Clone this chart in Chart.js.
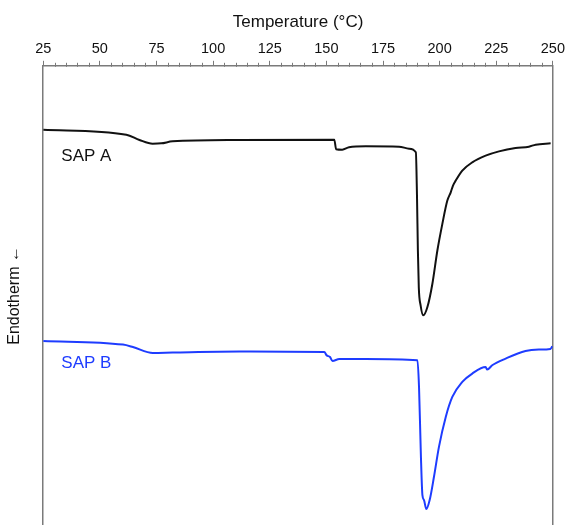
<!DOCTYPE html>
<html>
<head>
<meta charset="utf-8">
<script src="https://cdn.jsdelivr.net/npm/chart.js@4.4.0/dist/chart.umd.min.js"></script>
<style>
  html, body { margin: 0; padding: 0; background: #fff; }
  #wrap { width: 568px; height: 525px; }
</style>
</head>
<body>
<div id="wrap"><canvas id="dsc"></canvas></div>
<script>
// DSC traces (temperature in °C, heat flow in arbitrary units)
const tempA = [25, 61.7, 67.5, 73.3, 77.1, 82.1, 111.6, 153.5, 154.3, 157, 160, 167.4, 182.1, 186.5, 189.5,
  190.0, 190.4, 190.8, 191.6, 192.8, 194.6, 196.8, 199, 201.2, 203.4, 204.9, 205.9, 207.1, 210, 214.4,
  220.3, 226.2, 233.5, 239.4, 242.4, 249];
const heatA = [39.6, 39.1, 38.57, 38.2, 38.23, 38.43, 38.57, 38.6, 37.65, 37.6, 37.83, 37.93, 37.9, 37.7, 37.33,
  33.0, 27.5, 23.8, 22.0, 21.0, 21.83, 24.17, 27.5, 30.17, 32.5, 33.33, 34.0, 34.5, 35.5, 36.33,
  37.0, 37.43, 37.77, 37.9, 38.1, 38.23];

const tempB = [25, 60.2, 64.6, 73.4, 82.2, 111.6, 149.1, 150.1, 151.6, 152.7, 155.7, 167.4, 190.2,
  190.9, 191.7, 192.4, 193.1, 194.1, 195.6, 197.5, 199.7, 202.7, 205.6, 210, 214.4, 220.3, 221,
  223.2, 229.1, 237.9, 243.8, 248.9, 249.7];
const heatB = [18.43, 18.07, 17.83, 17.23, 17.27, 17.37, 17.33, 17.0, 16.83, 16.43, 16.63, 16.63, 16.5,
  13.83, 7.17, 3.0, 2.5, 1.6, 2.5, 4.83, 7.83, 10.83, 12.83, 14.33, 15.17, 15.83, 15.57,
  16.0, 16.67, 17.43, 17.57, 17.63, 17.9];

const seriesNames = ['SAP A', 'SAP B'];
const labelAt = [[33, 36.95], [33, 16.2]];
const tickStep = 25;
const minorStep = 5;

const FONT = '"Liberation Sans", Arial, sans-serif';
const AXIS = '#7a7a7a';
const colors = ['#111111', '#1e3cff'];

function toPoints(xs, ys) {
  return xs.map((x, i) => ({ x: x, y: ys[i] }));
}

// minor ticks along the top axis + curve labels
const extras = {
  id: 'extras',
  afterDraw(chart) {
    const ctx = chart.ctx;
    const xs = chart.scales.x, ys = chart.scales.y;
    const top = chart.chartArea.top;
    ctx.save();
    ctx.strokeStyle = AXIS;
    ctx.lineWidth = 1;
    for (let v = xs.min; v <= xs.max; v += minorStep) {
      if (v % tickStep === 0) continue;
      const px = Math.round(xs.getPixelForValue(v)) + 0.5;
      ctx.beginPath();
      ctx.moveTo(px, top - 3);
      ctx.lineTo(px, top + 1);
      ctx.stroke();
    }
    ctx.font = '17px ' + FONT;
    ctx.textAlign = 'left';
    ctx.textBaseline = 'middle';
    seriesNames.forEach((name, i) => {
      ctx.fillStyle = colors[i];
      ctx.fillText(name, xs.getPixelForValue(labelAt[i][0]), ys.getPixelForValue(labelAt[i][1]));
    });
    ctx.restore();
  }
};

new Chart(document.getElementById('dsc'), {
  type: 'line',
  data: {
    datasets: [
      { label: seriesNames[0], data: toPoints(tempA, heatA), borderColor: colors[0] },
      { label: seriesNames[1], data: toPoints(tempB, heatB), borderColor: colors[1] }
    ]
  },
  options: {
    responsive: true,
    maintainAspectRatio: false,
    animation: false,
    layout: { padding: { left: 0, right: 14, top: 0, bottom: 0 } },
    elements: {
      point: { radius: 0 },
      line: { borderWidth: 2, cubicInterpolationMode: 'monotone' }
    },
    plugins: { legend: { display: false }, tooltip: { enabled: false } },
    scales: {
      x: {
        type: 'linear',
        position: 'top',
        min: 25,
        max: 250,
        ticks: { stepSize: tickStep, color: '#111', padding: 3, font: { family: FONT, size: 14.5 }, maxRotation: 0 },
        grid: { display: true, drawOnChartArea: false, tickLength: 5, color: AXIS, lineWidth: 1 },
        border: { display: true, color: AXIS, width: 1.5 },
        title: {
          display: true,
          text: 'Temperature (°C)',
          color: '#111',
          font: { family: FONT, size: 17 },
          padding: { top: 12, bottom: 5 }
        }
      },
      y: {
        type: 'linear',
        position: 'left',
        min: 0,
        max: 46,
        ticks: { display: false },
        grid: { display: false, drawTicks: false },
        border: { display: true, color: AXIS, width: 1.5 },
        title: {
          display: true,
          text: 'Endotherm ←',
          color: '#111',
          font: { family: FONT, size: 16 },
          padding: { top: 5, bottom: 19 }
        }
      },
      y2: {
        type: 'linear',
        position: 'right',
        min: 0,
        max: 46,
        ticks: { display: false },
        grid: { display: false, drawTicks: false },
        border: { display: true, color: AXIS, width: 1.5 }
      }
    }
  },
  plugins: [extras]
});
</script>
</body>
</html>
